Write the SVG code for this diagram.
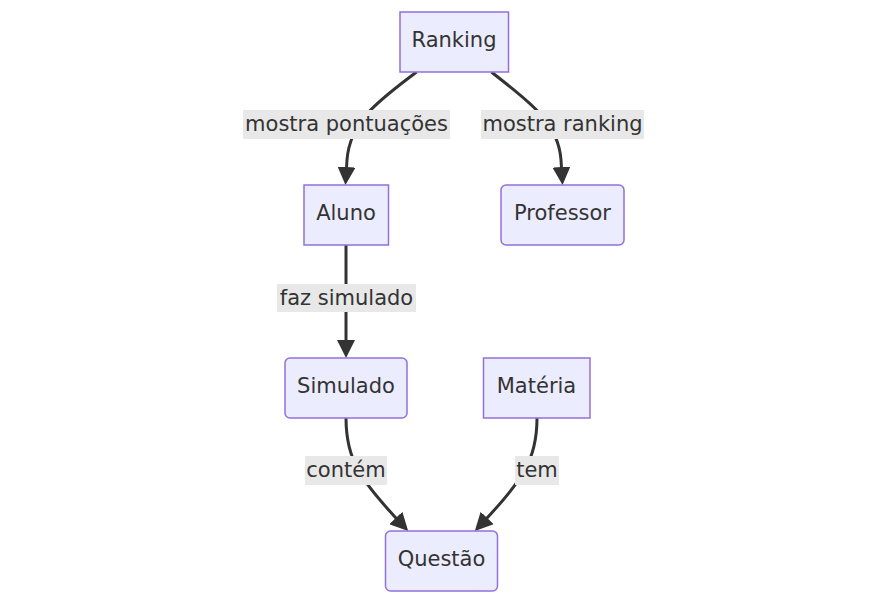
<svg xmlns="http://www.w3.org/2000/svg" width="887" height="603" viewBox="0 0 887 603">
<style>
.node rect{fill:#ECECFF;stroke:#9370DB;stroke-width:1.5}
text{font-family:"DejaVu Sans",Verdana,sans-serif;font-size:21px;fill:#333;text-anchor:middle;dominant-baseline:central}
.edge{fill:none;stroke:#333;stroke-width:3}
.lbl rect{fill:#e8e8e8}
</style>
<defs>
<marker id="arr" viewBox="0 0 10 10" refX="5" refY="5" markerUnits="userSpaceOnUse" markerWidth="18" markerHeight="18" orient="auto">
<path d="M0,0 L10,5 L0,10 z" fill="#333"/>
</marker>
</defs>
<rect width="887" height="603" fill="#fff"/>
<g id="connectors">
<path class="edge" d="M416.5,72 C380,100 350,120 347,160 L346,176" marker-end="url(#arr)"/>
<path class="edge" d="M491.5,72 C526,100 558,120 561,160 L562,176" marker-end="url(#arr)"/>
<path class="edge" d="M346,245 L346,349" marker-end="url(#arr)"/>
<path class="edge" d="M346,418 C346,460 360,480 402,524.5" marker-end="url(#arr)"/>
<path class="edge" d="M537,418 C537,460 523,480 481,524.5" marker-end="url(#arr)"/>
</g>
<g id="edge-labels">
<g class="lbl"><rect x="243" y="110" width="207" height="29"/><text x="346.5" y="124">mostra pontuações</text></g>
<g class="lbl"><rect x="481" y="110" width="163" height="29"/><text x="562.5" y="124">mostra ranking</text></g>
<g class="lbl"><rect x="277" y="284" width="139" height="28"/><text x="346.5" y="297.5">faz simulado</text></g>
<g class="lbl"><rect x="305" y="456" width="82" height="29"/><text x="346" y="470">contém</text></g>
<g class="lbl"><rect x="515" y="456" width="44" height="29"/><text x="537" y="470">tem</text></g>
</g>
<g id="Ranking" class="node"><rect x="400" y="12" width="108.5" height="60"/><text x="454" y="39.5">Ranking</text></g>
<g id="Aluno" class="node"><rect x="304" y="185" width="84.5" height="60"/><text x="346" y="212.5">Aluno</text></g>
<g id="Professor" class="node"><rect x="501" y="185" width="123" height="60" rx="5"/><text x="562.5" y="212.5">Professor</text></g>
<g id="Simulado" class="node"><rect x="285" y="358" width="122" height="60" rx="5"/><text x="346" y="385.5">Simulado</text></g>
<g id="Materia" class="node"><rect x="483.5" y="358" width="106.5" height="60"/><text x="536.5" y="385.5">Matéria</text></g>
<g id="Questao" class="node"><rect x="385.5" y="531" width="112" height="60" rx="5"/><text x="441.5" y="558.5">Questão</text></g>
</svg>
